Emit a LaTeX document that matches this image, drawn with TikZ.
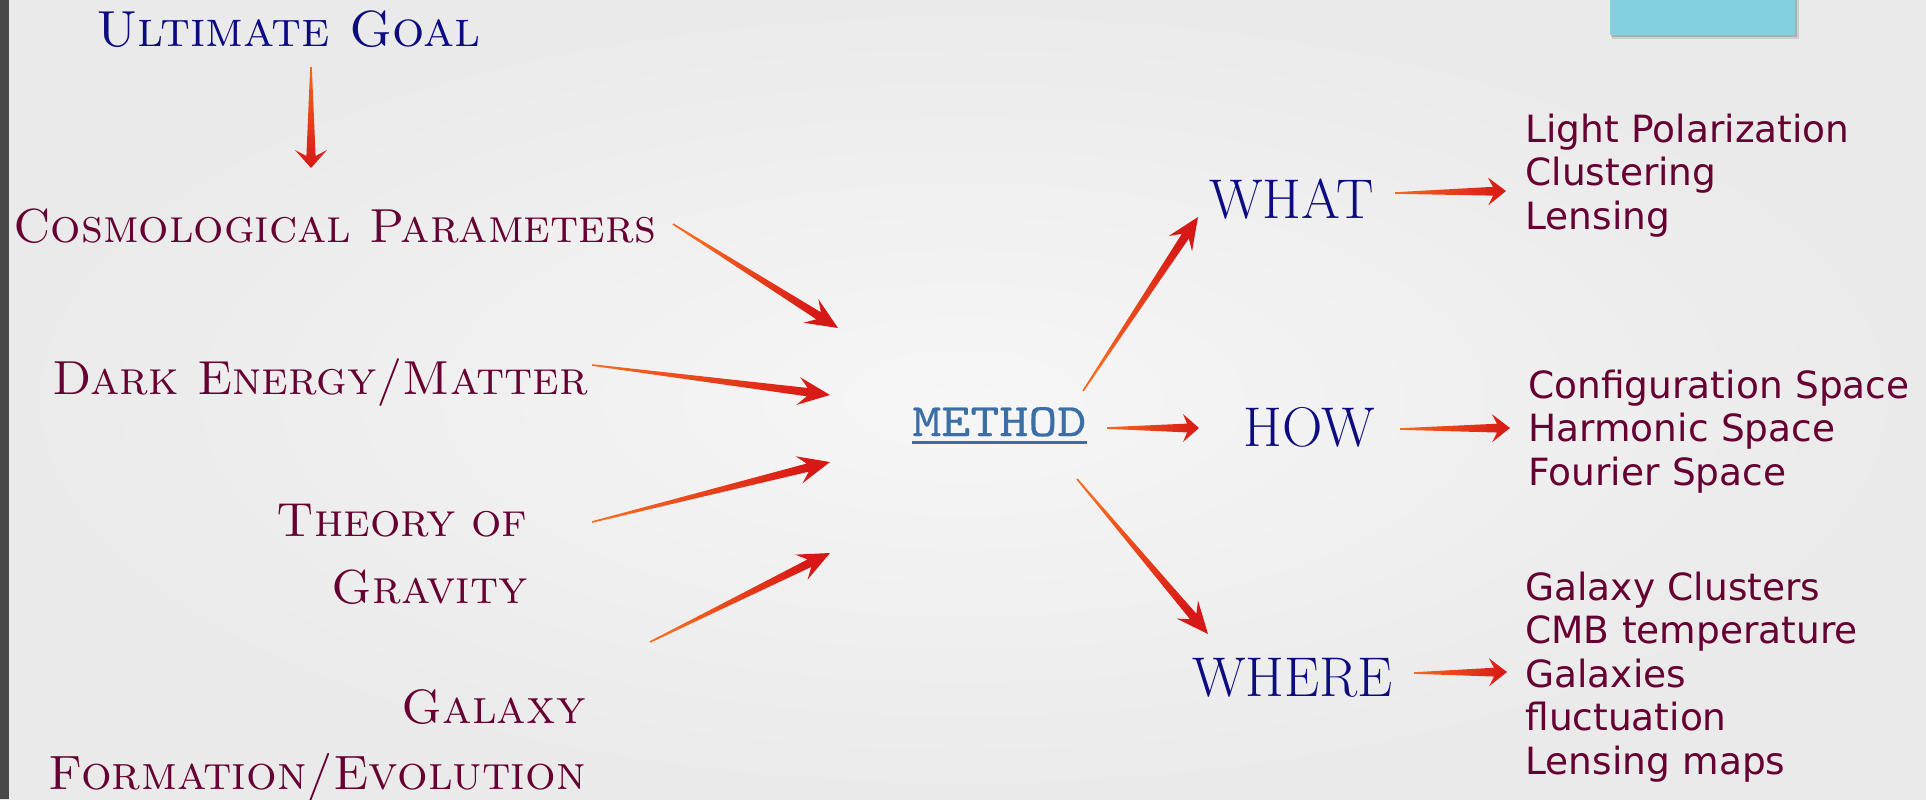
\documentclass[tikz,border=0pt]{standalone}
\usepackage{fontspec}
\usetikzlibrary{calc}
\newfontfamily\listfont{DejaVu Sans}
\newfontfamily\methodfont[FakeStretch=1.19,FakeBold=0.4]{lmmono10-regular.otf}
\definecolor{navy}{RGB}{12,12,128}
\definecolor{maroon}{RGB}{102,0,51}
\definecolor{steel}{RGB}{58,110,165}
\definecolor{arrred}{RGB}{214,24,22}
\definecolor{arrorange}{RGB}{248,104,30}
\definecolor{boxcyan}{RGB}{131,208,222}
\definecolor{bgin}{RGB}{246,246,246}
\definecolor{bgout}{RGB}{234,234,234}
\definecolor{strip}{RGB}{72,72,72}

% tapered arrow: #1 start, #2 tip, #3 head length, #4 head half width, #5 notch, #6 shaft half width
\newcommand\taper[6]{%
  \pgfmathanglebetweenpoints{\pgfpointanchor{#1}{center}}{\pgfpointanchor{#2}{center}}%
  \pgfmathsetmacro\tpang{\pgfmathresult-90}%
  \coordinate (tpN) at ($(#2)!#5!(#1)$);
  \coordinate (tpH) at ($(#2)!#3!(#1)$);
  \shade[top color=arrred, bottom color=arrorange, shading angle=\tpang]
    ($(#1)!0.4pt!90:(#2)$) -- ($(tpN)!#6!90:(#2)$) -- ($(tpH)!#4!90:(#2)$) -- (#2)
    -- ($(tpH)!#4!-90:(#2)$) -- ($(tpN)!#6!-90:(#2)$) -- ($(#1)!0.4pt!-90:(#2)$) -- cycle;
}

\tikzset{
  sctext/.style={inner sep=0pt, text=maroon, font={\fontsize{23.9}{33.5}\selectfont\scshape}},
  qtext/.style={inner sep=0pt, text=navy, font={\fontsize{28}{32}\selectfont}},
  listtext/.style={inner sep=0pt, text=maroon, text width=200pt, align=left,
    font={\fontsize{18.75}{21.75}\listfont}, anchor=base west},
}

\begin{document}
\begin{tikzpicture}[x=0.5pt, y=-0.5pt]
\useasboundingbox (0,0) rectangle (1926,799);
% background
\shade[inner color=bgin, outer color=bgout] (0,0) rectangle (1926,799);
\fill[strip] (0,0) rectangle (9,799);
% cyan box with shadow
\fill[black, opacity=0.12] (1612,0) rectangle (1799,39);
\fill[black, opacity=0.15] (1611,0) rectangle (1797,37);
\fill[boxcyan] (1610,0) rectangle (1795,35);

% left side
\node[inner sep=0pt, text=navy, font={\fontsize{25.4}{30}\selectfont\scshape}, anchor=base west] (goal) at (96,46) {Ultimate Goal};
\node[sctext, anchor=base west] (cosmo) at (13,242) {Cosmological Parameters};
\node[sctext, anchor=base west] (dark) at (52,394) {Dark Energy/Matter};
\node[sctext, text width=250pt, align=right, anchor=base east] (theory) at (528,536) {Theory of\\Gravity};
\node[sctext, text width=300pt, align=right, font={\fontsize{24.1}{33}\selectfont\scshape}, anchor=base east] (galaxy) at (586,723) {Galaxy\\Formation/Evolution};

% centre
\node[inner sep=0pt, text=steel, font={\fontsize{23.2}{28}\methodfont}, anchor=base west] (method) at (912,436) {METHOD};
\draw[steel, line width=1.5pt] ([yshift=-3pt]method.base west) -- ([yshift=-3pt]method.base east);

\node[qtext, anchor=base west] (what) at (1209,218) {WHAT};
\node[qtext, anchor=base west] (how) at (1243,446) {HOW};
\node[qtext, anchor=base west] (where) at (1192,696) {WHERE};

% right lists
\node[listtext] (whatlist) at (1525,142) {Light Polarization\\Clustering\\Lensing};
\node[listtext] (howlist) at (1528,398) {Configuration Space\\Harmonic Space\\Fourier Space};
\node[listtext] (wherelist) at (1525,600) {Galaxy Clusters\\CMB temperature\\Galaxies\\fluctuation\\Lensing maps};

% arrow end points
\coordinate (c1s) at (311,67);   \coordinate (c1e) at (311,168);
\coordinate (c2s) at (673,224);  \coordinate (c2e) at (838,328);
\coordinate (c3s) at (592,365);  \coordinate (c3e) at (830,395);
\coordinate (c4s) at (592,522);  \coordinate (c4e) at (830,462);
\coordinate (c5s) at (650,642);  \coordinate (c5e) at (830,553);
\coordinate (c6s) at (1083,391); \coordinate (c6e) at (1198,217);
\coordinate (c7s) at (1107,428); \coordinate (c7e) at (1199,428);
\coordinate (c8s) at (1077,479); \coordinate (c8e) at (1208,634);
\coordinate (c9s) at (1395,193); \coordinate (c9e) at (1506,191);
\coordinate (c10s) at (1400,429); \coordinate (c10e) at (1510,428);
\coordinate (c11s) at (1414,673); \coordinate (c11e) at (1507,672);

\taper{c1s}{c1e}{9pt}{8pt}{6pt}{2.3pt}
\taper{c2s}{c2e}{16pt}{7pt}{11.5pt}{2.1pt}
\taper{c3s}{c3e}{16pt}{7pt}{11.5pt}{2.1pt}
\taper{c4s}{c4e}{16pt}{7pt}{11.5pt}{2.1pt}
\taper{c5s}{c5e}{16pt}{7pt}{11.5pt}{2.1pt}
\taper{c6s}{c6e}{16pt}{7pt}{11.5pt}{2.1pt}
\taper{c7s}{c7e}{8pt}{7pt}{6pt}{2.2pt}
\taper{c8s}{c8e}{16pt}{7pt}{11.5pt}{2.1pt}
\taper{c9s}{c9e}{9pt}{7pt}{6.5pt}{2.2pt}
\taper{c10s}{c10e}{9pt}{7pt}{6.5pt}{2.2pt}
\taper{c11s}{c11e}{9pt}{7pt}{6.5pt}{2.2pt}
\end{tikzpicture}
\end{document}
